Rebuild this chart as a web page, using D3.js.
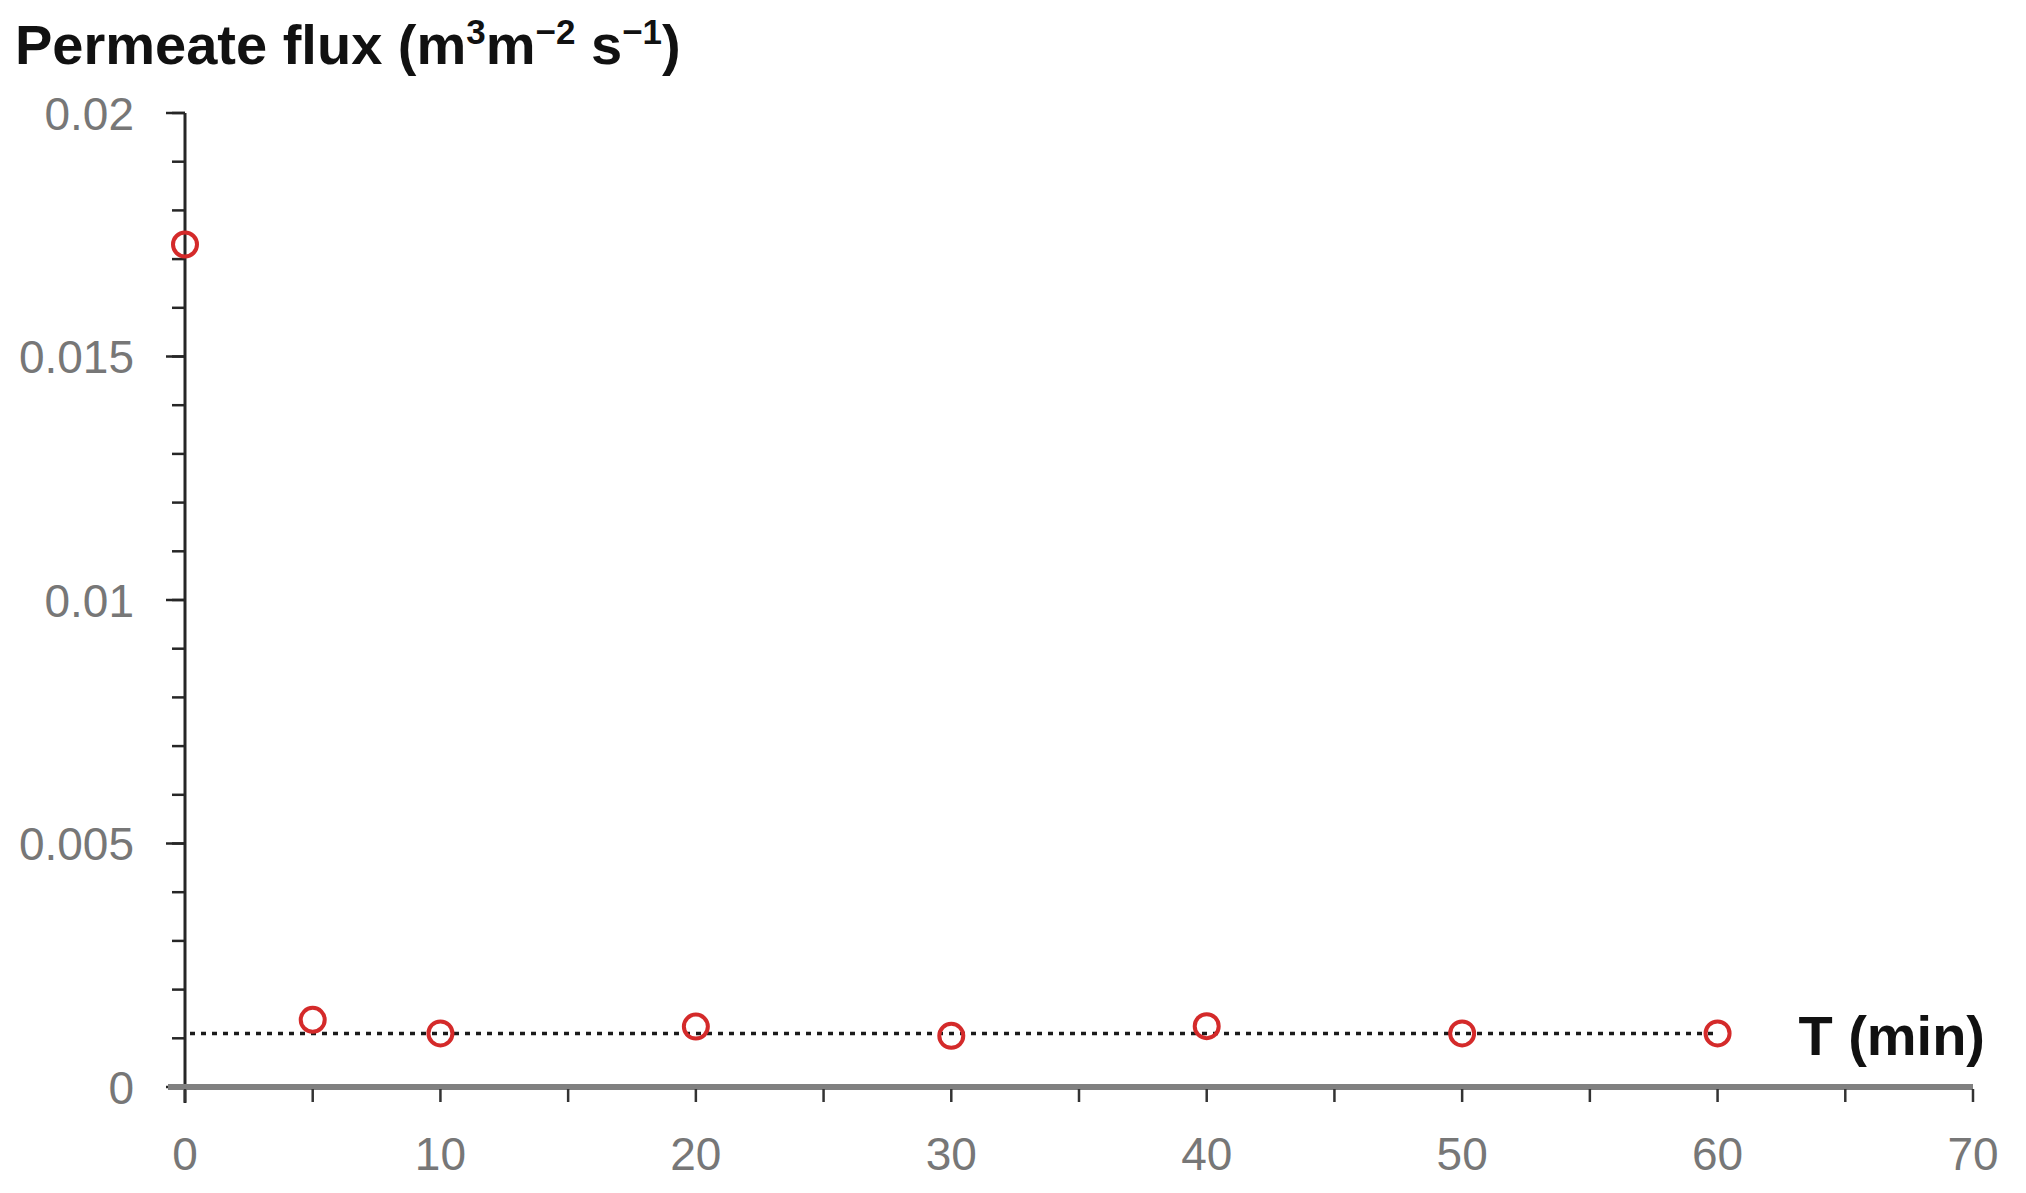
<!DOCTYPE html>
<html>
<head>
<meta charset="utf-8">
<script src="https://d3js.org/d3.v7.min.js"></script>
<style>
    body { margin: 0; background: #fff; }
    svg { display: block; }
    .tick-label { font-family: "Liberation Sans", Arial, sans-serif; font-size: 46px; fill: #777; }
    .title { font-family: "Liberation Sans", Arial, sans-serif; font-size: 56px; font-weight: bold; fill: #111; }
</style>
</head>
<body>
<div id="chart"></div>
<script>
var times = [0, 5, 10, 20, 30, 40, 50, 60];
var flux = [0.0173, 0.00138, 0.0011, 0.00124, 0.00105, 0.00125, 0.0011, 0.0011];
var steady_flux = 0.0011;
var steady_span = [0, 60];
var x_ticks = [0, 10, 20, 30, 40, 50, 60, 70];
var y_ticks = [0, 0.005, 0.01, 0.015, 0.02];

var width = 2026,
    height = 1193,
    margins = {top: 113, right: 53, bottom: 106, left: 185};

var svg = d3.select("#chart").append("svg")
    .attr("width", width)
    .attr("height", height);

var x = d3.scaleLinear()
    .domain([0, 70])
    .range([margins.left, width - margins.right]);

var y = d3.scaleLinear()
    .domain([0, 0.02])
    .range([height - margins.bottom, margins.top]);

/*
 * Y axis: line, minor and major ticks
 */
var y_minor = d3.range(0, 21).map(function(d) { return d / 1000; });

svg.append("line")
    .attr("x1", x(0)).attr("x2", x(0))
    .attr("y1", y(0.02)).attr("y2", y(0) + 16)
    .attr("stroke", "#262626")
    .attr("stroke-width", 3);

svg.selectAll(".y-minor")
    .data(y_minor)
    .enter().append("line")
    .attr("class", "y-minor")
    .attr("x1", x(0) - 13).attr("x2", x(0))
    .attr("y1", function(d) { return y(d); })
    .attr("y2", function(d) { return y(d); })
    .attr("stroke", "#262626")
    .attr("stroke-width", 2.5);

svg.selectAll(".y-major")
    .data(y_ticks)
    .enter().append("line")
    .attr("class", "y-major")
    .attr("x1", x(0) - 19).attr("x2", x(0))
    .attr("y1", function(d) { return y(d); })
    .attr("y2", function(d) { return y(d); })
    .attr("stroke", "#262626")
    .attr("stroke-width", 2.5);

svg.selectAll(".y-label")
    .data(y_ticks)
    .enter().append("text")
    .attr("class", "tick-label")
    .attr("x", x(0) - 51)
    .attr("y", function(d) { return y(d); })
    .attr("dy", "0.36em")
    .attr("text-anchor", "end")
    .text(function(d) { return d === 0 ? "0" : d3.format("")(d); });

/*
 * X axis: thick gray line with ticks every 5
 */
svg.append("line")
    .attr("x1", x(0) - 17).attr("x2", x(70))
    .attr("y1", y(0)).attr("y2", y(0))
    .attr("stroke", "#808080")
    .attr("stroke-width", 6);

svg.selectAll(".x-tick")
    .data(d3.range(0, 71, 5))
    .enter().append("line")
    .attr("class", "x-tick")
    .attr("x1", function(d) { return x(d); })
    .attr("x2", function(d) { return x(d); })
    .attr("y1", y(0) + 2).attr("y2", y(0) + 15)
    .attr("stroke", "#333")
    .attr("stroke-width", 2.5);

svg.selectAll(".x-label")
    .data(x_ticks)
    .enter().append("text")
    .attr("class", "tick-label")
    .attr("x", function(d) { return x(d); })
    .attr("y", y(0) + 83)
    .attr("text-anchor", "middle")
    .text(function(d) { return d; });

/*
 * Dotted steady-state line and data points
 */
svg.append("line")
    .attr("x1", x(steady_span[0]) + 5).attr("x2", x(steady_span[1]))
    .attr("y1", y(steady_flux)).attr("y2", y(steady_flux))
    .attr("stroke", "#1a1a1a")
    .attr("stroke-width", 3.5)
    .attr("stroke-dasharray", "5,6");

svg.selectAll(".point")
    .data(times)
    .enter().append("circle")
    .attr("class", "point")
    .attr("cx", function(d) { return x(d); })
    .attr("cy", function(d, i) { return y(flux[i]); })
    .attr("r", 12)
    .attr("fill", "none")
    .attr("stroke", "#d42a2a")
    .attr("stroke-width", 4);

/*
 * Titles
 */
var title = svg.append("text")
    .attr("class", "title")
    .attr("x", 15)
    .attr("y", 64);
title.append("tspan").text("Permeate flux (m");
title.append("tspan").attr("font-size", "35px").attr("dy", -20).text("3");
title.append("tspan").attr("dy", 20).text("m");
title.append("tspan").attr("font-size", "35px").attr("dy", -20).text("−2");
title.append("tspan").attr("dy", 20).text(" s");
title.append("tspan").attr("font-size", "35px").attr("dy", -20).text("−1");
title.append("tspan").attr("dy", 20).text(")");

svg.append("text")
    .attr("class", "title")
    .attr("x", 1985)
    .attr("y", 1055)
    .attr("text-anchor", "end")
    .text("T (min)");
</script>
</body>
</html>
